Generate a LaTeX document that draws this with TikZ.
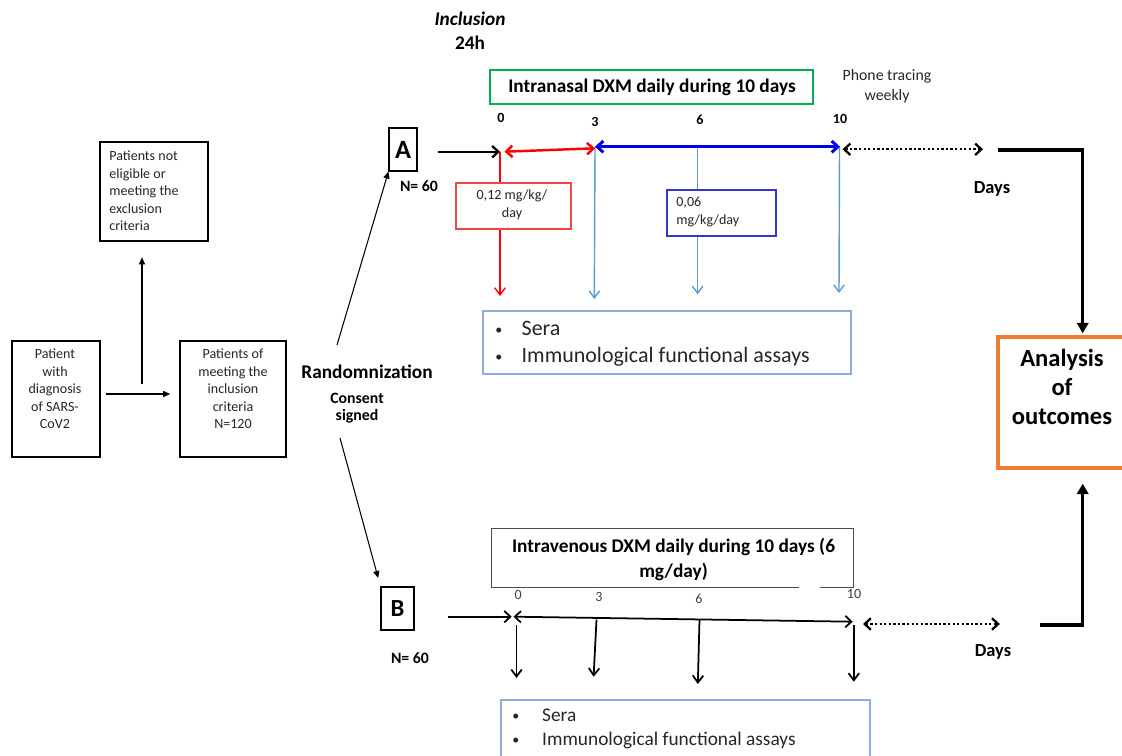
\documentclass[tikz,border=0pt]{standalone}
\usepackage{fontspec}
\setmainfont{Carlito}
\usetikzlibrary{arrows.meta,fit}
\definecolor{cred}{HTML}{FF0000}
\definecolor{credbox}{HTML}{F24545}
\definecolor{cblue}{HTML}{0000E6}
\definecolor{cbluebox}{HTML}{3535C8}
\definecolor{clblue}{HTML}{5B9BD5}
\definecolor{csera}{HTML}{8FAADC}
\definecolor{cgreen}{HTML}{00B050}
\definecolor{corange}{HTML}{ED7D31}
\definecolor{ctext}{HTML}{262626}
\newcommand{\smbul}[1]{\makebox[#1][l]{\fontsize{8}{8}\selectfont\raisebox{0.6pt}{•}}}
\begin{document}
\begin{tikzpicture}[x=0.02cm,y=-0.02cm,
  every node/.style={text=ctext, inner sep=0pt},
  box/.style={draw=black, line width=0.6pt, inner sep=0pt},
  fa/.style={font=\fontsize{8}{10}\selectfont},
  fb/.style={font=\bfseries\fontsize{11}{14.2}\selectfont},
  tickb/.style={font=\bfseries\fontsize{8}{9}\selectfont, text=black},
  tickr/.style={font=\fontsize{8}{9}\selectfont, text=black!75},
  daysf/.style={font=\bfseries\fontsize{10.5}{12}\selectfont, text=black},
  nf/.style={font=\bfseries\fontsize{9}{10}\selectfont, text=black},
  thinarr/.style={line width=0.6pt, -{Triangle[length=4pt,width=3.5pt]}},
  vdown/.style={line width=0.8pt, -{Straight Barb[length=4pt,width=6pt]}},
  chevend/.style={-{Straight Barb[length=3.5pt,width=6.5pt]}},
  dblarr/.style={arrows={Straight Barb[length=3.5pt,width=6.5pt]-Straight Barb[length=3.5pt,width=6.5pt]}},
  dotarr/.style={dblarr, line width=1.3pt, dash pattern=on 1.3pt off 1.3pt},
  thickarr/.style={line width=1.8pt, -{Triangle[length=6pt,width=6.5pt]}}
]
\useasboundingbox (0,0) rectangle (1122,756);

% ---------- left part ----------
\node[box, fit={(12,341)(100,457)}] (diag) {};
\node[fa, align=center] (diagt) at (55,389) {Patient\\with\\diagnosis\\of SARS-\\CoV2};
\node[box, fit={(100,142)(208,241)}] (excl) {};
\node[fa, align=left, anchor=west] (exclt) at (109,191) {Patients not\\eligible or\\meeting the\\exclusion\\criteria};
\node[box, fit={(180,341)(286,457)}] (incl) {};
\node[fa, align=center] (inclt) at (233,389) {Patients of\\meeting the\\inclusion\\criteria\\N=120};
\coordinate (h1) at (106,394);
\draw[thinarr, shorten >=5.3pt] (h1) -- (incl.west |- h1);
\coordinate (v1) at (142,384);
\draw[thinarr, shorten >=9pt] (v1) -- (excl.south -| v1);

\node[font=\bfseries\fontsize{11}{13}\selectfont, text=black] (rand) at (367,372) {Randomnization};
\node[nf, align=center] (cons) at (357,408) {Consent\\signed};

% ---------- A / B boxes ----------
\node[box, fit={(389,128)(417,171)}] (A) {};
\node[font=\bfseries\fontsize{15}{16}\selectfont, text=black] (At) at (403,150) {A};
\node[box, fit={(381,587)(414,630)}] (B) {};
\node[font=\bfseries\fontsize{14}{16}\selectfont, text=black] (Bt) at (397.5,609) {B};
\coordinate (ra) at (337,345);
\coordinate (rb) at (340,438);
\draw[thinarr] (ra) -- (A.south west);
\draw[thinarr, shorten >=5pt] (rb) -- (B.north west);
\node[nf] (nA) at (419,186) {N= 60};
\node[nf] (nB) at (410,658) {N= 60};

% ---------- top header ----------
\node[font=\bfseries\itshape\fontsize{11}{13}\selectfont, text=black] (incl1) at (470,19) {Inclusion};
\node[font=\bfseries\fontsize{11}{13}\selectfont, text=black] (incl2) at (470,43) {24h};
\node[draw=cgreen, line width=1.2pt, fit={(490,70)(813,104)}] (green) {};
\node[fb, text=black] (greent) at (652,87.5) {Intranasal DXM daily during 10 days};
\node[font=\fontsize{9}{11.2}\selectfont, align=center] (phone) at (887,86) {Phone tracing\\weekly};

\node[tickb] (t0) at (501,118) {0};
\node[tickb] (t3) at (595,122) {3};
\node[tickb] (t6) at (700,120) {6};
\node[tickb] (t10) at (840,119) {10};

% ---------- top timeline ----------
\coordinate (aS) at (438,151.7);
\coordinate (p0) at (500,151.7);
\coordinate (r0) at (504.5,151.7);
\coordinate (r3) at (595,148.3);
\coordinate (b3) at (595,146.7);
\coordinate (b10) at (840,146.7);
\coordinate (d0) at (842.5,149.3);
\coordinate (d1) at (983,149.3);
\draw[line width=1.3pt, chevend] (aS) -- (p0);

% vertical lines (drawn before dose boxes)
\coordinate (e0) at (500,296);
\coordinate (e3) at (594.3,299);
\coordinate (e6) at (697.6,294.3);
\coordinate (e10) at (839,293);
\coordinate (s6) at (697.6,146.7);
\coordinate (s10) at (839.5,146.7);
\draw[cred, vdown] (p0) -- (e0);
\draw[clblue, vdown] (b3) -- (e3);
\draw[clblue, vdown] (s6) -- (e6);
\draw[clblue, vdown] (s10) -- (e10);

\draw[cred, line width=1.4pt, dblarr] (r0) -- (r3);
\draw[cblue, line width=1.7pt, dblarr] (b3) -- (b10);
\draw[dotarr] (d0) -- (d1);

\node[draw=credbox, line width=0.7pt, fill=white, fit={(456,183)(571,229)}] (redbox) {};
\node[fa, align=center] (redt) at (512,205) {0,12 mg/kg/\\day};
\node[draw=cbluebox, line width=0.7pt, fill=white, fit={(667,190)(776,236)}] (bluebox) {};
\node[fa, align=left, anchor=west] (bluet) at (676,212) {0,06\\mg/kg/day};

\node[draw=csera, line width=0.9pt, fit={(483,311)(851,374)}] (sera1) {};
\node[font=\fontsize{12.5}{15.3}\selectfont, align=left, anchor=west] (sera1t) at (495,343.5)
  {\smbul{15pt}Sera\\\smbul{15pt}Immunological functional assays};

\node[daysf] (days1) at (992,189) {Days};

% ---------- analysis ----------
\node[draw=corange, line width=1.8pt, fit={(998,337)(1140,468)}] (ana) {};
\node[font=\bfseries\fontsize{14}{16.5}\selectfont, align=center, text=black] (anat) at (1062,387) {Analysis\\of\\outcomes};
\coordinate (tl) at (998,150);
\coordinate (tr) at (1082.7,150);
\draw[thickarr, shorten >=1.2pt] (tl) -- (tr) -- (tr |- ana.north);
\coordinate (bl) at (1040,625);
\coordinate (br) at (1082.7,625);
\draw[thickarr, shorten >=8pt] (bl) -- (br) -- (br |- ana.south);

% ---------- bottom arm ----------
\node[fit={(492,529)(853,587)}] (iv) {};
\node[fb, align=center, text=black] (ivt) at (673.5,559) {Intravenous DXM daily during 10 days (6\\mg/day)};
\draw[line width=0.6pt, black!70] ([xshift=6.14cm]iv.south west) -- (iv.south west) -- (iv.north west) -- (iv.north east) -- (iv.south east) -- ++(-33,0);

\node[tickr] (u0) at (518.3,595) {0};
\node[tickr] (u3) at (599,597) {3};
\node[tickr] (u6) at (699,599) {6};
\node[tickr] (u10) at (854,594) {10};

\coordinate (bS) at (448,616.7);
\coordinate (q0) at (511.7,616.7);
\coordinate (q0b) at (513.5,616.7);
\coordinate (q10) at (852.7,621.7);
\draw[line width=1pt, chevend] (bS) -- (q0);
\draw[line width=1pt, dblarr] (q0b) -- (q10);
\coordinate (f0) at (863,624);
\coordinate (f1) at (999.8,624);
\draw[dotarr] (f0) -- (f1);

\coordinate (w0a) at (516.5,625);  \coordinate (w0b) at (516.5,678);
\coordinate (w3a) at (596.5,619.5); \coordinate (w3b) at (593.6,676.7);
\coordinate (w6a) at (699.5,620);   \coordinate (w6b) at (697.8,684);
\coordinate (w10a) at (853.8,625);  \coordinate (w10b) at (853.8,681.7);
\draw[black, vdown, line width=1pt] (w0a) -- (w0b);
\draw[black, vdown, line width=1pt] (w3a) -- (w3b);
\draw[black, vdown, line width=1pt] (w6a) -- (w6b);
\draw[black, vdown, line width=1pt] (w10a) -- (w10b);

\node[daysf] (days2) at (993,652) {Days};

\node[draw=csera, line width=0.9pt, fit={(501,700)(870,790)}] (sera2) {};
\node[font=\fontsize{11}{13.6}\selectfont, align=left, anchor=west] (sera2t) at (512,729)
  {\smbul{17pt}Sera\\\smbul{17pt}Immunological functional assays};
\end{tikzpicture}
\end{document}
